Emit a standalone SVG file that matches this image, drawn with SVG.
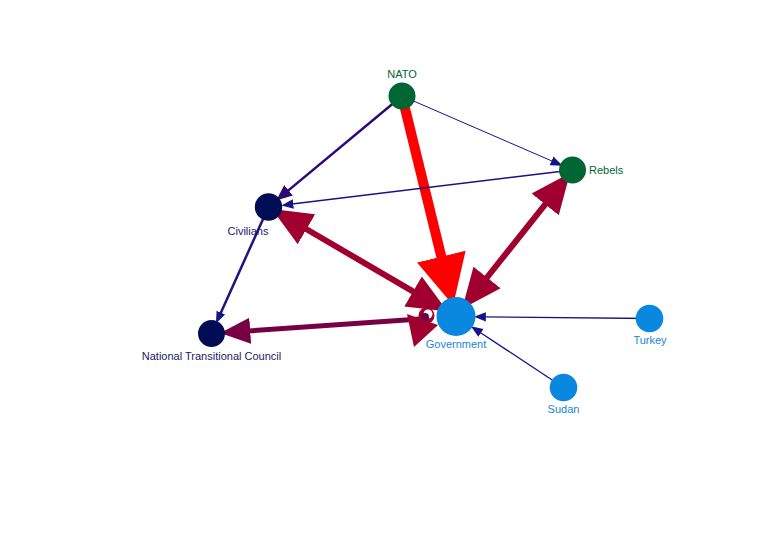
<svg xmlns="http://www.w3.org/2000/svg" width="782" height="540" viewBox="0 0 782 540">
<style>
text{font-family:"Liberation Sans",Arial,sans-serif;font-size:11px}
.mid{text-anchor:middle}
.green{fill:#006633}
.navy{fill:#000d55}
.blue{fill:#0a88e0}
.lg{fill:#006633}
.ln{fill:#1a1a66}
.lb{fill:#1a85d8}
.e{fill:none}
</style>
<defs>
<marker id="mRed" markerUnits="userSpaceOnUse" markerWidth="50" markerHeight="50" viewBox="0 -21 42 42" refX="1" refY="0" orient="auto"><path d="M0,-21L42,0L0,21z" fill="#ff0000"/></marker>
<marker id="mCr" markerUnits="userSpaceOnUse" markerWidth="40" markerHeight="40" viewBox="0 -13 30 26" refX="1" refY="0" orient="auto-start-reverse"><path d="M0,-13L30,0L0,13z" fill="#a0002f"/></marker>
<marker id="mNtc" markerUnits="userSpaceOnUse" markerWidth="30" markerHeight="30" viewBox="0 -10 23 20" refX="1" refY="0" orient="auto"><path d="M0,-10L23,0L0,10z" fill="#770044"/></marker>
<marker id="mInd" markerUnits="userSpaceOnUse" markerWidth="16" markerHeight="16" viewBox="0 -5 12 10" refX="1" refY="0" orient="auto"><path d="M0,-5L12,0L0,5z" fill="#2b0a78"/></marker>
<marker id="mNav" markerUnits="userSpaceOnUse" markerWidth="12" markerHeight="12" viewBox="0 -4 10 8" refX="1" refY="0" orient="auto"><path d="M0,-4L10,0L0,4z" fill="#14148a"/></marker>
<marker id="mNavS" markerUnits="userSpaceOnUse" markerWidth="12" markerHeight="12" viewBox="0 -3.5 9 7" refX="1" refY="0" orient="auto"><path d="M0,-3.5L9,0L0,3.5z" fill="#14148a"/></marker>
</defs>
<g id="connectors">
<line class="e" x1="402" y1="96" x2="441.6" y2="257.8" stroke="#ff0000" stroke-width="10" marker-end="url(#mRed)"/>
<line class="e" x1="305.3" y1="228.5" x2="414.2" y2="292.1" stroke="#a0002f" stroke-width="6" marker-start="url(#mCr)" marker-end="url(#mCr)"/>
<line class="e" x1="486.2" y1="278.5" x2="546.0" y2="203.3" stroke="#a0002f" stroke-width="6" marker-start="url(#mCr)" marker-end="url(#mCr)"/>
<line class="e" x1="420" y1="319" x2="248.9" y2="330.9" stroke="#770044" stroke-width="5" marker-end="url(#mNtc)"/>
<polygon points="407,314 438,325 414,347" fill="#a0002f"/>
<circle cx="426.5" cy="315.5" r="8" fill="#a0002f"/>
<circle cx="428" cy="314" r="4.5" fill="#ffffff"/>
<circle cx="425" cy="317" r="4" fill="#6a0048"/>
<line class="e" x1="402" y1="96" x2="287.5" y2="191.1" stroke="#2b0a78" stroke-width="2.5" marker-end="url(#mInd)"/>
<line class="e" x1="402" y1="96" x2="552.8" y2="161.4" stroke="#14148a" stroke-width="1" marker-end="url(#mNavS)"/>
<line class="e" x1="572.5" y1="170" x2="292.1" y2="204.1" stroke="#14148a" stroke-width="1.5" marker-end="url(#mNav)"/>
<line class="e" x1="268.5" y1="207" x2="220.3" y2="313.9" stroke="#221180" stroke-width="2.5" marker-end="url(#mNavS)"/>
<line class="e" x1="649.5" y1="318.5" x2="484.5" y2="316.8" stroke="#14148a" stroke-width="1.3" marker-end="url(#mNavS)"/>
<line class="e" x1="563.5" y1="387.5" x2="479.8" y2="332.2" stroke="#14148a" stroke-width="1.3" marker-end="url(#mNavS)"/>
</g>
<g id="node-nato"><circle class="green" cx="402" cy="96" r="13.5"/><text class="mid lg" x="402" y="78">NATO</text></g>
<g id="node-rebels"><circle class="green" cx="572.5" cy="170" r="13.5"/><text class="lg" x="589" y="174">Rebels</text></g>
<g id="node-civilians"><circle class="navy" cx="268.5" cy="207" r="13.7"/><text class="mid ln" x="248" y="235">Civilians</text></g>
<g id="node-ntc"><circle class="navy" cx="211.5" cy="333.5" r="13.5"/><text class="mid ln" x="211.5" y="360">National Transitional Council</text></g>
<g id="node-government"><circle class="blue" cx="456" cy="316.5" r="19.5"/><text class="mid lb" x="456" y="348">Government</text></g>
<g id="node-turkey"><circle class="blue" cx="649.5" cy="318.5" r="13.8"/><text class="mid lb" x="650" y="344">Turkey</text></g>
<g id="node-sudan"><circle class="blue" cx="563.5" cy="387.5" r="13.8"/><text class="mid lb" x="563.5" y="413">Sudan</text></g>
</svg>
